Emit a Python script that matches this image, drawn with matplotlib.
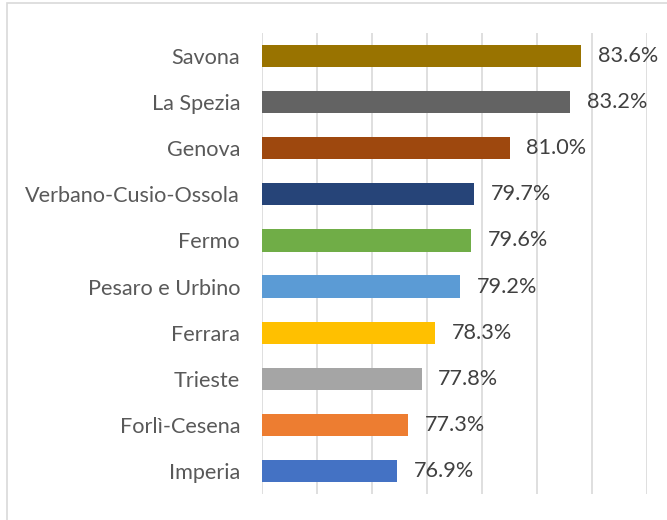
import matplotlib
matplotlib.use("Agg")
import matplotlib.pyplot as plt
from matplotlib.patches import Rectangle

provinces = ["Imperia", "Forlì-Cesena", "Trieste", "Ferrara", "Pesaro e Urbino",
             "Fermo", "Verbano-Cusio-Ossola", "Genova", "La Spezia", "Savona"]
values = [76.9, 77.3, 77.8, 78.3, 79.2, 79.6, 79.7, 81.0, 83.2, 83.6]
colors = ["#4472C4", "#ED7D31", "#A5A5A5", "#FFC000", "#5B9BD5",
          "#70AD47", "#264478", "#9E480E", "#636363", "#997300"]

plt.rcParams['font.family'] = ['Lato', 'DejaVu Sans']

W, H = 667, 520
fig = plt.figure(figsize=(W / 100, H / 100), dpi=100)

# chart frame
fig.patches.append(Rectangle((7 / W, -0.1), 1.2, (H - 3) / H + 0.1,
                             transform=fig.transFigure, fill=False,
                             edgecolor="#D9D9D9", linewidth=1.2))

ax = fig.add_axes([262 / W, (H - 494) / H, 385 / W, 461 / H])
xmin = 72
ypos = list(range(len(provinces)))
ax.barh(ypos, [v - xmin for v in values], left=xmin, height=0.48,
        color=colors, zorder=3)
ax.set_xlim(72, 86)
ax.set_ylim(-0.5, len(provinces) - 0.5)
ax.set_xticks(range(72, 87, 2))
ax.xaxis.grid(True, color="#D9D9D9", linewidth=1.2, zorder=0)
ax.tick_params(axis='x', length=0, labelbottom=False)
ax.tick_params(axis='y', length=0, pad=15.8, labelsize=15.6, labelcolor="#595959")
ax.set_yticks(ypos)
ax.set_yticklabels(provinces)
for s in ax.spines.values():
    s.set_visible(False)

for y, v in zip(ypos, values):
    ax.annotate(f"{v:.1f}%", (v, y), xytext=(12, 0), textcoords="offset points",
                va="center", ha="left", fontsize=15.6, color="#404040")

fig.savefig("out.png", dpi=100)
